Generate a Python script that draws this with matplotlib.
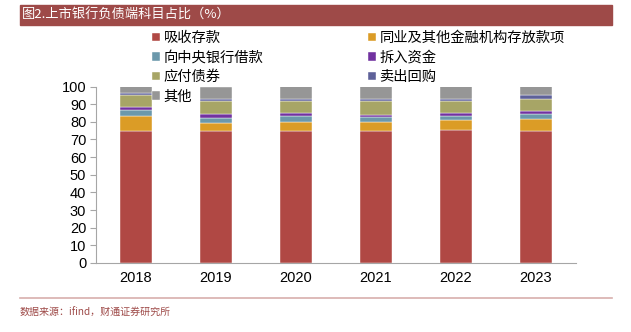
import numpy as np
import matplotlib.pyplot as plt
from matplotlib.patches import Rectangle

plt.rcParams['font.family'] = ['Noto Sans CJK SC', 'DejaVu Sans']

years = ['2018', '2019', '2020', '2021', '2022', '2023']
series = ['吸收存款', '同业及其他金融机构存放款项', '向中央银行借款', '拆入资金',
          '应付债券', '卖出回购', '其他']
deposits = [75.0, 75.0, 74.8, 75.0, 75.6, 75.0]
interbank = [8.5, 4.5, 5.3, 5.1, 5.4, 6.4]
central_bank = [3.2, 2.8, 3.2, 2.4, 2.3, 3.0]
borrowings = [1.8, 2.1, 1.7, 1.5, 1.7, 1.7]
bonds = [6.7, 7.4, 7.0, 8.0, 7.0, 7.0]
repo = [1.3, 1.1, 1.0, 0.8, 0.9, 2.3]
other = [3.5, 7.1, 7.0, 7.2, 7.1, 4.6]
values = [deposits, interbank, central_bank, borrowings, bonds, repo, other]
colors = ['#B04844', '#DB9C26', '#6B98AB', '#7132A0', '#A7A566', '#5E6199', '#969696']

fig = plt.figure(figsize=(6.31, 3.32), dpi=100)
ax = fig.add_axes([96 / 631, 1 - 263 / 332, 480 / 631, 176.5 / 332])

x = np.arange(len(years))
bottom = np.zeros(len(years))
handles = {}
for name, vals, c in zip(series, values, colors):
    h = ax.bar(x, vals, width=0.4, bottom=bottom, color=c,
               edgecolor='white', linewidth=0.3, label=name)
    handles[name] = h
    bottom += np.array(vals)

ax.set_xlim(-0.5, len(years) - 0.5)
ax.set_ylim(0, 100)
ax.set_yticks(range(0, 101, 10))
ax.set_xticks(x)
ax.set_xticklabels(years)
ax.tick_params(axis='y', length=4, color='#A6A6A6', labelsize=10.5, pad=3)
ax.tick_params(axis='x', length=0, labelsize=10.5, pad=6)
for lab in ax.get_xticklabels() + ax.get_yticklabels():
    lab.set_family(['Liberation Sans', 'DejaVu Sans'])
for s in ['top', 'right']:
    ax.spines[s].set_visible(False)
for s in ['left', 'bottom']:
    ax.spines[s].set_color('#A6A6A6')
    ax.spines[s].set_linewidth(0.8)

# legend: left column gets four entries, right column three
order = ['吸收存款', '向中央银行借款', '应付债券', '其他',
         '同业及其他金融机构存放款项', '拆入资金', '卖出回购']
leg = fig.legend([handles[n] for n in order], order, ncol=2,
                 loc='upper left', bbox_to_anchor=(152 / 631, 1 - 31 / 332),
                 frameon=False, fontsize=10.3, handlelength=0.56, handleheight=0.56,
                 handletextpad=0.25, labelspacing=0.39, columnspacing=7.3,
                 borderaxespad=0, borderpad=0)

# title bar
fig.patches.append(Rectangle((20 / 631, 1 - 25 / 332), 592 / 631, 20 / 332,
                             transform=fig.transFigure, color='#9E4A48', zorder=0))
fig.text(22 / 631, 1 - 15 / 332, '图2.上市银行负债端科目占比（%）', color='white',
         fontsize=9.5, va='center', ha='left')

# footer rule and source
fig.lines.append(plt.Line2D([20 / 631, 612 / 631], [1 - 298 / 332, 1 - 298 / 332],
                            transform=fig.transFigure, color='#D8AFAD', linewidth=1.2))
fig.text(20 / 631, 1 - 313 / 332, '数据来源：ifind，财通证券研究所', color='#9E4A48',
         fontsize=7.2, va='center', ha='left')

fig.savefig('out.png', dpi=100)
